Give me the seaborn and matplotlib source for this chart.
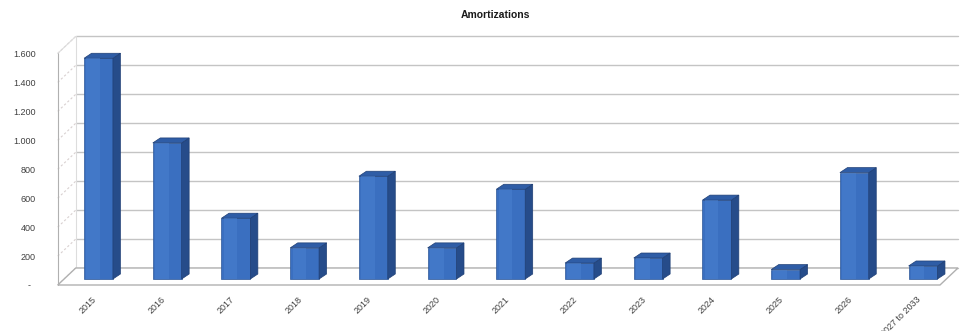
import matplotlib
matplotlib.use("Agg")
import matplotlib.pyplot as plt
from matplotlib.patches import Polygon
import seaborn as sns
import pandas as pd

# Amortization schedule
years = ["2015", "2016", "2017", "2018", "2019", "2020", "2021",
         "2022", "2023", "2024", "2025", "2026", "2027 to 2033"]
amounts = [1525, 940, 420, 215, 710, 215, 620, 110, 145, 545, 65, 735, 90]
ytick_values = [0, 200, 400, 600, 800, 1000, 1200, 1400, 1600]
ytick_labels = ["-  ", "200", "400", "600", "800", "1.000", "1.200", "1.400", "1.600"]

sns.set_theme(style="white")
plt.rcParams["font.family"] = ["Liberation Sans", "DejaVu Sans"]

W, H = 964, 331
fig = plt.figure(figsize=(W / 100, H / 100), dpi=100)
ax_l, ax_r, ax_b, ax_t = 57.75, 940.0, 285.0, 53.4   # front plane, pixels from top-left
ax = fig.add_axes([ax_l / W, (H - ax_b) / H, (ax_r - ax_l) / W, (ax_b - ax_t) / H])

df = pd.DataFrame({"year": years, "amount": amounts})
sns.barplot(data=df, x="year", y="amount", color="#3a6fc0", saturation=1,
            width=0.42, ax=ax, zorder=3)

xmin, xmax = -0.5, 12.34
ax.set_xlim(xmin, xmax)
ax.set_ylim(0, 1600)
sx = (xmax - xmin) / (ax_r - ax_l)     # data units per pixel
sy = 1600 / (ax_b - ax_t)

# depth of the floor and of each column, in pixels
fdx, fdy = 18, 17
bdx, bdy = 7.5, 5
front_dx, front_dy = 6.4, 6

grid_c = "#c4c4c4"
edge_c = "#b0b0b0"

# back wall gridlines
for v in ytick_values:
    ax.plot([xmin + fdx * sx, xmax + fdx * sx], [v + fdy * sy] * 2,
            color=grid_c, lw=1.0, clip_on=False, zorder=1)
    # left wall gridlines
    ax.plot([xmin, xmin + fdx * sx], [v, v + fdy * sy],
            color="#d8d0d0", lw=0.8, ls=(0, (2, 2)), clip_on=False, zorder=1)

# walls and floor outline
ax.plot([xmin, xmin], [0, 1600], color=edge_c, lw=0.8, clip_on=False, zorder=1)
ax.plot([xmin + fdx * sx] * 2, [fdy * sy, 1600 + fdy * sy], color="#dddddd",
        lw=0.8, clip_on=False, zorder=1)
ax.plot([xmin, xmin + fdx * sx], [1600, 1600 + fdy * sy], color="#dddddd",
        lw=0.8, clip_on=False, zorder=1)
floor = Polygon([(xmin, 0), (xmax, 0), (xmax + fdx * sx, fdy * sy),
                 (xmin + fdx * sx, fdy * sy)], closed=True, facecolor="#ffffff",
                edgecolor=edge_c, lw=1.0, clip_on=False, zorder=2)
ax.add_patch(floor)

# give the columns depth
for p in ax.patches[:]:
    if p is floor:
        continue
    x0 = p.get_x() + front_dx * sx
    w = p.get_width()
    h = p.get_height()
    y0 = front_dy * sy
    p.set_x(x0)
    p.set_y(y0)
    p.set_edgecolor("#2d5797")
    p.set_linewidth(0.5)
    p.set_clip_on(False)
    ddx, ddy = bdx * sx, bdy * sy
    side = Polygon([(x0 + w, y0), (x0 + w + ddx, y0 + ddy),
                    (x0 + w + ddx, y0 + h + ddy), (x0 + w, y0 + h)],
                   closed=True, facecolor="#264c8a", edgecolor="#1f3f75",
                   lw=0.5, clip_on=False, zorder=3)
    top = Polygon([(x0, y0 + h), (x0 + w, y0 + h), (x0 + w + ddx, y0 + h + ddy),
                   (x0 + ddx, y0 + h + ddy)], closed=True, facecolor="#2f5da6",
                  edgecolor="#1f3f75", lw=0.5, clip_on=False, zorder=3)
    ax.add_patch(side)
    ax.add_patch(top)
    # lighter stripe on the front face
    ax.add_patch(Polygon([(x0 + w * 0.08, y0), (x0 + w * 0.55, y0),
                          (x0 + w * 0.55, y0 + h), (x0 + w * 0.08, y0 + h)],
                         closed=True, facecolor="#4a80d0", edgecolor="none",
                         alpha=0.55, clip_on=False, zorder=3))

for s in ax.spines.values():
    s.set_visible(False)
ax.set_facecolor("none")
ax.set_xlabel("")
ax.set_ylabel("")
ax.set_yticks(ytick_values)
ax.set_yticklabels(ytick_labels)
ax.tick_params(axis="y", length=0, pad=16, labelsize=6.5, labelcolor="#404040")
ax.tick_params(axis="x", length=0, pad=7, labelsize=6.5, labelcolor="#404040")
ax.set_xticks(range(len(years)))
ax.set_xticklabels(years, rotation=45, ha="right", rotation_mode="anchor")

fig.text(495 / W, 1 - 15 / H, "Amortizations", ha="center", va="center",
         fontsize=7.5, fontweight="bold", color="#1a1a1a")

fig.savefig("out.png", dpi=100)
